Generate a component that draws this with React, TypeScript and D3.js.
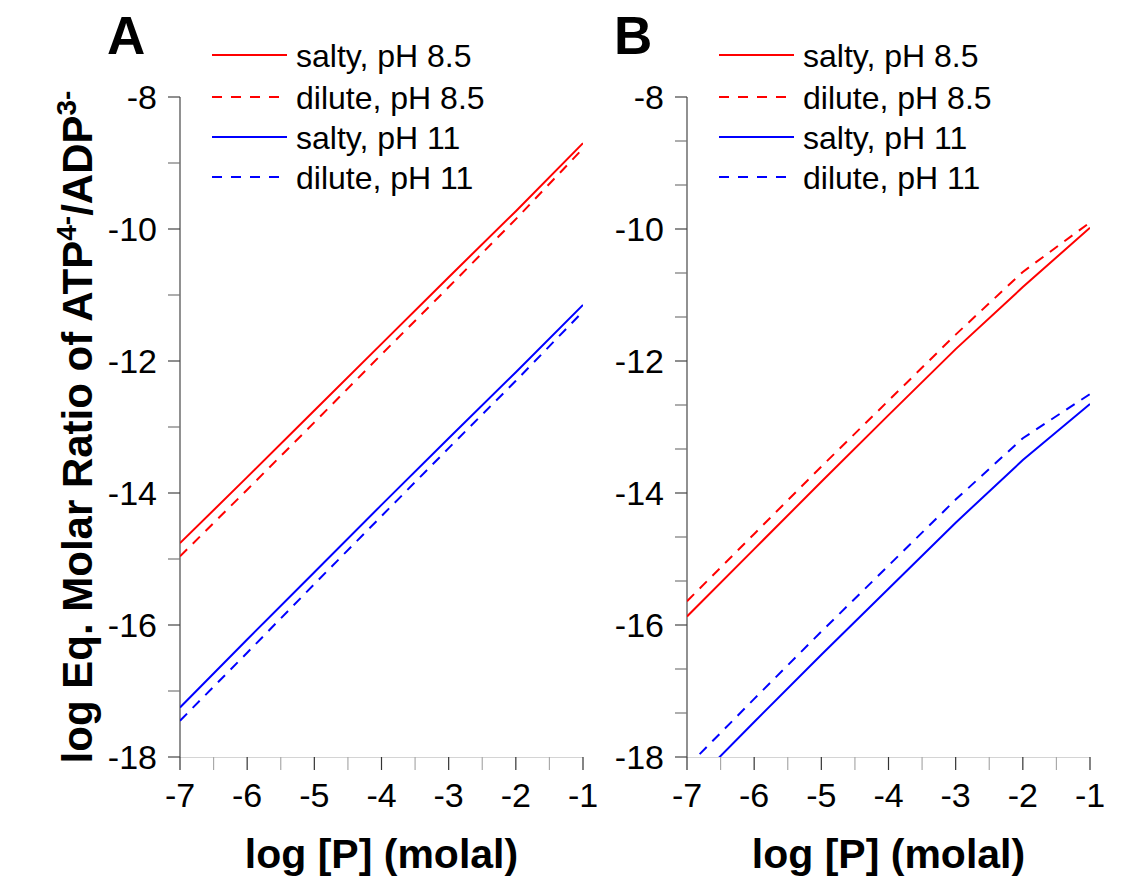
import React from "react";
import * as d3 from "d3";

// ---------- data ----------
const logP = [-7, -6, -5, -4, -3, -2, -1];

// Panel A
const A_saltyPH85 = [-14.76, -13.76, -12.75, -11.74, -10.73, -9.73, -8.7];
const A_dilutePH85 = [-14.96, -13.95, -12.93, -11.9, -10.88, -9.85, -8.78];
const A_saltyPH11 = [-17.25, -16.22, -15.2, -14.18, -13.17, -12.17, -11.15];
const A_dilutePH11 = [-17.45, -16.42, -15.38, -14.35, -13.32, -12.3, -11.25];

// Panel B
const B_saltyPH85 = [-15.87, -14.85, -13.83, -12.82, -11.82, -10.88, -9.98];
const B_dilutePH85 = [-15.64, -14.62, -13.6, -12.6, -11.6, -10.65, -9.9];
const B_saltyPH11 = [-18.5, -17.47, -16.45, -15.45, -14.45, -13.5, -12.65];
const B_dilutePH11 = [-18.15, -17.12, -16.1, -15.1, -14.1, -13.17, -12.5];

const seriesNames = ["salty, pH 8.5", "dilute, pH 8.5", "salty, pH 11", "dilute, pH 11"];
const seriesColors = ["#ff0000", "#ff0000", "#0000ff", "#0000ff"];
const seriesDashed = [false, true, false, true];

const xTicks = [-7, -6, -5, -4, -3, -2, -1];
const yTicks = [-8, -10, -12, -14, -16, -18];
const panelLetters = ["A", "B"];
const xTitle = "log [P] (molal)";

const FONT = "'Liberation Sans', Arial, Helvetica, sans-serif";

type PanelProps = {
  left: number;
  letter: string;
  data: number[][];
  minorPerMajor: number;
  id: string;
};

const TOP = 97;
const BOTTOM = 757;
const WIDTH = 403;

function Panel({ left, letter, data, minorPerMajor, id }: PanelProps) {
  const x = d3.scaleLinear().domain([-7, -1]).range([left, left + WIDTH]);
  const y = d3.scaleLinear().domain([-18, -8]).range([BOTTOM, TOP]);
  const line = d3
    .line<number>()
    .x((_, i) => x(logP[i]))
    .y((d) => y(d));

  const xMinor: number[] = [];
  for (let v = -7; v < -1; v += 1) xMinor.push(v + 0.5);
  const yMinor: number[] = [];
  for (let v = -18; v < -8; v += 2) {
    for (let k = 1; k <= minorPerMajor; k++) yMinor.push(v + (2 * k) / (minorPerMajor + 1));
  }

  const legendX0 = left + 32;
  const legendRows = [55, 97, 137, 177];

  return (
    <g>
      <defs>
        <clipPath id={`clip-${id}`}>
          <rect x={left} y={TOP} width={WIDTH} height={BOTTOM - TOP} />
        </clipPath>
      </defs>
      <line x1={left} x2={left + WIDTH} y1={BOTTOM + 0.5} y2={BOTTOM + 0.5} stroke="#d4d4d4" strokeWidth={1} />
      {xTicks.map((t) => (
        <line key={`xt${t}`} x1={x(t)} x2={x(t)} y1={BOTTOM} y2={BOTTOM + 13} stroke="#333" strokeWidth={1.2} />
      ))}
      {xMinor.map((t) => (
        <line key={`xm${t}`} x1={x(t)} x2={x(t)} y1={BOTTOM} y2={BOTTOM + 13} stroke="#aaa" strokeWidth={1.2} />
      ))}
      {xTicks.map((t) => (
        <text key={`xl${t}`} x={x(t)} y={807} textAnchor="middle" fontSize={34} fontFamily={FONT} fill="#000">
          {t}
        </text>
      ))}
      <line x1={left} x2={left} y1={TOP} y2={BOTTOM} stroke="#555" strokeWidth={1.3} />
      {yTicks.map((t) => (
        <line key={`yt${t}`} x1={left - 12} x2={left} y1={y(t)} y2={y(t)} stroke="#444" strokeWidth={1.2} />
      ))}
      {yMinor.map((t) => (
        <line key={`ym${t}`} x1={left - 12} x2={left} y1={y(t)} y2={y(t)} stroke="#777" strokeWidth={1.2} />
      ))}
      {yTicks.map((t) => (
        <text key={`yl${t}`} x={left - 23} y={y(t)} dy="0.36em" textAnchor="end" fontSize={34} fontFamily={FONT} fill="#000">
          {t}
        </text>
      ))}
      <g clipPath={`url(#clip-${id})`}>
        {data.map((s, i) => (
          <path
            key={`s${i}`}
            d={line(s) || ""}
            fill="none"
            stroke={seriesColors[i]}
            strokeWidth={2}
            strokeDasharray={seriesDashed[i] ? "10,8" : undefined}
          />
        ))}
      </g>
      {seriesNames.map((n, i) => (
        <g key={`lg${i}`}>
          <line
            x1={legendX0}
            x2={legendX0 + 75}
            y1={legendRows[i]}
            y2={legendRows[i]}
            stroke={seriesColors[i]}
            strokeWidth={2}
            strokeDasharray={seriesDashed[i] ? "10,9" : undefined}
          />
          <text x={legendX0 + 84} y={legendRows[i]} dy="0.36em" fontSize={32} fontFamily={FONT} fill="#000">
            {n}
          </text>
        </g>
      ))}
      <text x={left - 73} y={54} fontSize={53} fontWeight="bold" fontFamily={FONT} fill="#000">
        {letter}
      </text>
      <text x={left + WIDTH / 2} y={868} textAnchor="middle" fontSize={41} fontWeight="bold" fontFamily={FONT} fill="#000">
        {xTitle}
      </text>
    </g>
  );
}

export default function App() {
  return (
    <svg width={1145} height={882} style={{ position: "absolute", left: 0, top: 0, background: "#fff" }}>
      <rect x={0} y={0} width={1145} height={882} fill="#fff" />
      <Panel left={180} letter={panelLetters[0]} data={[A_saltyPH85, A_dilutePH85, A_saltyPH11, A_dilutePH11]} minorPerMajor={1} id="a" />
      <Panel left={687} letter={panelLetters[1]} data={[B_saltyPH85, B_dilutePH85, B_saltyPH11, B_dilutePH11]} minorPerMajor={2} id="b" />
      <text
        transform={`translate(92, ${(TOP + BOTTOM) / 2}) rotate(-90)`}
        textAnchor="middle"
        fontSize={42}
        fontWeight="bold"
        fontFamily={FONT}
        fill="#000"
      >
        log Eq. Molar Ratio of ATP
        <tspan fontSize={28} dy={-16}>4-</tspan>
        <tspan dy={16}>/ADP</tspan>
        <tspan fontSize={28} dy={-16}>3-</tspan>
      </text>
    </svg>
  );
}
